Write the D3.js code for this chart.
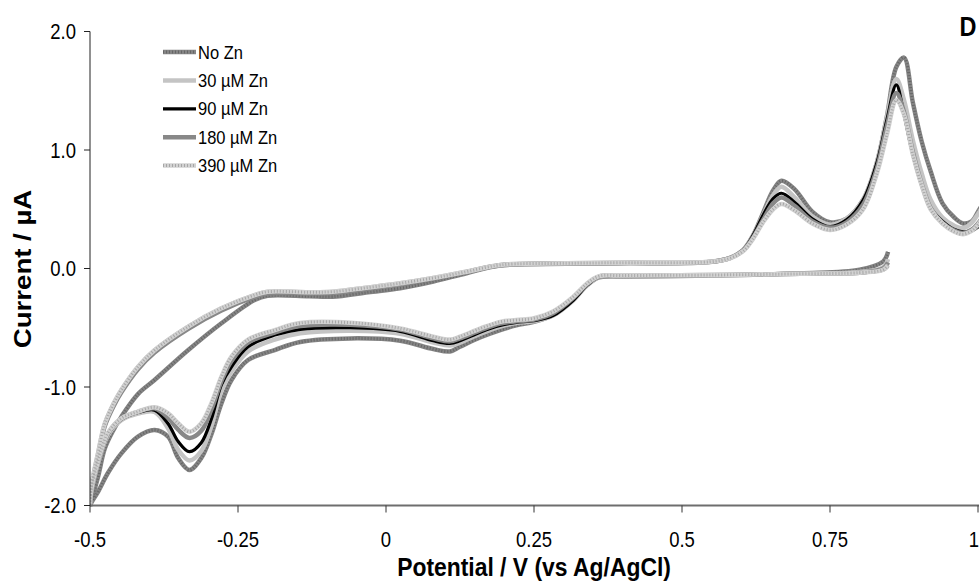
<!DOCTYPE html>
<html>
<head>
<meta charset="utf-8">
<script src="https://cdn.jsdelivr.net/npm/d3@7"></script>
<style>
  html, body { margin: 0; padding: 0; background: #fff; }
  svg { display: block; }
  text { font-family: "Liberation Sans", Arial, sans-serif; fill: #000; }
  .title { font-weight: bold; }
</style>
</head>
<body>
<script>
// potential steps of the cathodic sweep (0.85 V down to -0.5 V)
const potentialDown = [0.848, 0.84, 0.80, 0.70, 0.55, 0.40, 0.36, 0.34, 0.316, 0.283, 0.25, 0.22, 0.193, 0.16, 0.125, 0.108, 0.08, 0.024, -0.06, -0.145, -0.188, -0.233, -0.261, -0.278, -0.295, -0.312, -0.332, -0.351, -0.368, -0.391, -0.419, -0.447, -0.47, -0.486, -0.498, -0.5]
// potential steps of the anodic sweep (-0.5 V up past 1.0 V)
const potentialUp = [-0.5, -0.498, -0.486, -0.475, -0.46, -0.447, -0.419, -0.391, -0.334, -0.278, -0.222, -0.2, -0.13, -0.09, -0.03, 0.024, 0.08, 0.136, 0.193, 0.305, 0.395, 0.547, 0.581, 0.604, 0.62, 0.637, 0.654, 0.668, 0.69, 0.72, 0.75, 0.778, 0.806, 0.829, 0.846, 0.862, 0.875, 0.89, 0.905, 0.92, 0.94, 0.96, 0.975, 0.99, 1.0, 1.01]

// currents (µA)
const noZnDown = [0.14, 0.06, -0.01, -0.04, -0.06, -0.07, -0.075, -0.14, -0.26, -0.39, -0.45, -0.48, -0.52, -0.58, -0.66, -0.7, -0.68, -0.61, -0.59, -0.62, -0.688, -0.772, -0.941, -1.138, -1.4, -1.6, -1.7, -1.6, -1.42, -1.363, -1.419, -1.56, -1.728, -1.88, -1.98, -2.02]
const noZnUp = [-2.02, -1.97, -1.75, -1.52, -1.36, -1.25, -1.06, -0.941, -0.688, -0.462, -0.266, -0.23, -0.235, -0.238, -0.2, -0.167, -0.11, -0.04, 0.025, 0.04, 0.045, 0.055, 0.09, 0.16, 0.28, 0.47, 0.66, 0.74, 0.67, 0.48, 0.39, 0.42, 0.58, 0.89, 1.28, 1.7, 1.78, 1.4, 1.07, 0.82, 0.55, 0.43, 0.38, 0.4, 0.48, 0.56]

const zn30Down = [0.08, 0.01, -0.03, -0.045, -0.058, -0.065, -0.07, -0.14, -0.27, -0.395, -0.445, -0.46, -0.49, -0.55, -0.625, -0.65, -0.625, -0.55, -0.525, -0.547, -0.6, -0.7, -0.87, -1.03, -1.33, -1.54, -1.62, -1.53, -1.35, -1.21, -1.225, -1.28, -1.41, -1.635, -1.89, -2.0]
const zn30Up = [-2.0, -1.85, -1.55, -1.31, -1.14, -1.025, -0.83, -0.69, -0.49, -0.336, -0.224, -0.196, -0.2, -0.196, -0.16, -0.125, -0.08, -0.027, 0.03, 0.044, 0.049, 0.057, 0.088, 0.158, 0.275, 0.45, 0.62, 0.69, 0.6, 0.44, 0.37, 0.42, 0.58, 0.89, 1.27, 1.6, 1.42, 1.08, 0.8, 0.58, 0.43, 0.36, 0.34, 0.39, 0.46, 0.54]

const zn90Down = [0.02, -0.012, -0.037, -0.047, -0.058, -0.065, -0.07, -0.14, -0.27, -0.395, -0.44, -0.455, -0.48, -0.535, -0.61, -0.632, -0.61, -0.53, -0.5, -0.513, -0.562, -0.66, -0.829, -0.98, -1.27, -1.47, -1.546, -1.46, -1.31, -1.195, -1.215, -1.272, -1.4, -1.625, -1.88, -2.0]
const zn90Up = [-2.0, -1.85, -1.55, -1.31, -1.14, -1.027, -0.833, -0.693, -0.493, -0.34, -0.228, -0.2, -0.205, -0.2, -0.165, -0.128, -0.082, -0.028, 0.03, 0.044, 0.049, 0.057, 0.088, 0.16, 0.28, 0.45, 0.59, 0.635, 0.56, 0.42, 0.353, 0.41, 0.578, 0.888, 1.253, 1.55, 1.3, 0.96, 0.7, 0.51, 0.4, 0.33, 0.31, 0.32, 0.35, 0.40]

const zn180Down = [0.05, 0.0, -0.035, -0.045, -0.055, -0.062, -0.068, -0.13, -0.25, -0.375, -0.43, -0.445, -0.465, -0.52, -0.59, -0.615, -0.59, -0.515, -0.475, -0.485, -0.54, -0.625, -0.78, -0.95, -1.19, -1.37, -1.43, -1.36, -1.26, -1.18, -1.21, -1.268, -1.395, -1.62, -1.875, -2.0]
const zn180Up = [-2.0, -1.86, -1.57, -1.33, -1.16, -1.045, -0.85, -0.71, -0.51, -0.355, -0.24, -0.21, -0.21, -0.205, -0.17, -0.13, -0.085, -0.03, 0.028, 0.042, 0.047, 0.056, 0.088, 0.155, 0.26, 0.41, 0.55, 0.6, 0.53, 0.4, 0.345, 0.39, 0.54, 0.84, 1.2, 1.48, 1.32, 0.98, 0.71, 0.51, 0.385, 0.32, 0.30, 0.33, 0.38, 0.45]

const zn390Down = [0.03, -0.01, -0.035, -0.045, -0.055, -0.06, -0.065, -0.125, -0.24, -0.36, -0.42, -0.435, -0.45, -0.505, -0.575, -0.6, -0.575, -0.505, -0.457, -0.46, -0.52, -0.6, -0.744, -0.913, -1.138, -1.306, -1.377, -1.306, -1.222, -1.171, -1.208, -1.264, -1.39, -1.616, -1.87, -2.0]
const zn390Up = [-2.0, -1.85, -1.55, -1.31, -1.14, -1.025, -0.83, -0.69, -0.49, -0.336, -0.224, -0.196, -0.2, -0.196, -0.16, -0.125, -0.08, -0.027, 0.03, 0.044, 0.049, 0.057, 0.086, 0.15, 0.25, 0.39, 0.5, 0.545, 0.49, 0.38, 0.325, 0.37, 0.5, 0.8, 1.13, 1.42, 1.3, 0.96, 0.7, 0.5, 0.38, 0.31, 0.29, 0.32, 0.37, 0.44]

const seriesNames = ['No Zn', '30 µM Zn', '90 µM Zn', '180 µM Zn', '390 µM Zn']
const xTicks = [-0.5, -0.25, 0, 0.25, 0.5, 0.75, 1]
const yTicks = [-2, -1, 0, 1, 2]

const width = 979
const height = 584
const margin = {left: 90, right: 1, top: 31.5, bottom: 78.5}
// the lettering is tall and condensed
const stretch = 1.15

// line looks: base colour, optional dotted overlay colour, width
const styles = [
	{color: '#858585', dots: '#666666', w: 4.5},
	{color: '#c4c4c4', dots: null, w: 4.5},
	{color: '#000000', dots: null, w: 3.2},
	{color: '#888888', dots: null, w: 4.5},
	{color: '#d2d2d2', dots: '#a6a6a6', w: 4.5}
]

const cycles = [
	[noZnDown, noZnUp],
	[zn30Down, zn30Up],
	[zn90Down, zn90Up],
	[zn180Down, zn180Up],
	[zn390Down, zn390Up]
].map(([down, up]) => potentialDown.map((e, i) => [e, down[i]]).concat(potentialUp.map((e, i) => [e, up[i]])))

const x = d3.scaleLinear().domain([-0.5, 1.0]).range([margin.left, width - margin.right])
const y = d3.scaleLinear().domain([-2, 2]).range([height - margin.bottom, margin.top])

const svg = d3.select('body').append('svg').attr('width', width).attr('height', height)

svg.append('defs').append('clipPath').attr('id', 'plot')
	.append('rect').attr('x', margin.left).attr('y', 0)
	.attr('width', width - margin.left).attr('height', y(-2) + 1)

const line = d3.line()
	.x(d => x(d[0]))
	.y(d => y(d[1]))
	.curve(d3.curveCatmullRom.alpha(0.5))

const curves = svg.append('g').attr('clip-path', 'url(#plot)')
cycles.forEach((pts, i) => {
	const s = styles[i]
	curves.append('path').attr('d', line(pts))
		.attr('fill', 'none').attr('stroke', s.color).attr('stroke-width', s.w)
		.attr('stroke-linejoin', 'round')
	if (s.dots) {
		curves.append('path').attr('d', line(pts))
			.attr('fill', 'none').attr('stroke', s.dots).attr('stroke-width', s.w - 1.5)
			.attr('stroke-dasharray', '1 2')
	}
})

// text placed at (tx, ty) and stretched vertically
function label(parent, tx, ty, str, size, anchor) {
	return parent.append('text')
		.attr('transform', 'translate(' + tx + ',' + ty + ') scale(1,' + stretch + ')')
		.attr('text-anchor', anchor || 'start')
		.style('font-size', size + 'px')
		.text(str)
}

const fmtTick = d => d === 0 ? '0' : String(d)
const fmtY = d => d3.format('.1f')(d).replace('\u2212', '-')

// axes
const xAxis = svg.append('g').attr('transform', 'translate(0,' + y(-2) + ')')
xAxis.append('line').attr('x1', margin.left).attr('x2', width).attr('stroke', '#6e6e6e').attr('stroke-width', 2)
xAxis.selectAll('.tk').data(xTicks).enter().append('line')
	.attr('x1', d => x(d)).attr('x2', d => x(d)).attr('y1', 0).attr('y2', 7)
	.attr('stroke', '#333').attr('stroke-width', 1)
xTicks.forEach(d => {
	const last = d === xTicks[xTicks.length - 1]
	label(xAxis, last ? width : x(d), 41, fmtTick(d), 18.5, last ? 'end' : 'middle')
})

const yAxis = svg.append('g').attr('transform', 'translate(' + margin.left + ',0)')
yAxis.append('line').attr('y1', y(2)).attr('y2', y(-2)).attr('stroke', '#222').attr('stroke-width', 1)
yAxis.selectAll('.tk').data(yTicks).enter().append('line')
	.attr('x1', -6).attr('x2', 0).attr('y1', d => y(d)).attr('y2', d => y(d))
	.attr('stroke', '#222').attr('stroke-width', 1)
yTicks.forEach(d => label(yAxis, -14, y(d) + 7.5, fmtY(d), 18.5, 'end'))

// titles
label(svg, 534, 576, 'Potential / V (vs Ag/AgCl)', 22.9, 'middle').attr('class', 'title')

svg.append('text').attr('class', 'title')
	.attr('transform', 'translate(31,269) rotate(-90) scale(' + stretch + ',1)')
	.attr('text-anchor', 'middle')
	.style('font-size', '24px')
	.text('Current / µA')

label(svg, 968, 36, 'D', 23.5, 'middle').attr('class', 'title')

// legend
const legend = svg.append('g').attr('transform', 'translate(163,52)')
seriesNames.forEach((name, i) => {
	const s = styles[i]
	const row = legend.append('g').attr('transform', 'translate(0,' + (i * 28.4) + ')')
	row.append('line').attr('x1', 0).attr('x2', 33)
		.attr('stroke', s.color).attr('stroke-width', s.w)
	if (s.dots) {
		row.append('line').attr('x1', 0).attr('x2', 33)
			.attr('stroke', s.dots).attr('stroke-width', s.w - 1.5).attr('stroke-dasharray', '1 2')
	}
	label(row, 35, 6.5, name, 16.5)
})
</script>
</body>
</html>
